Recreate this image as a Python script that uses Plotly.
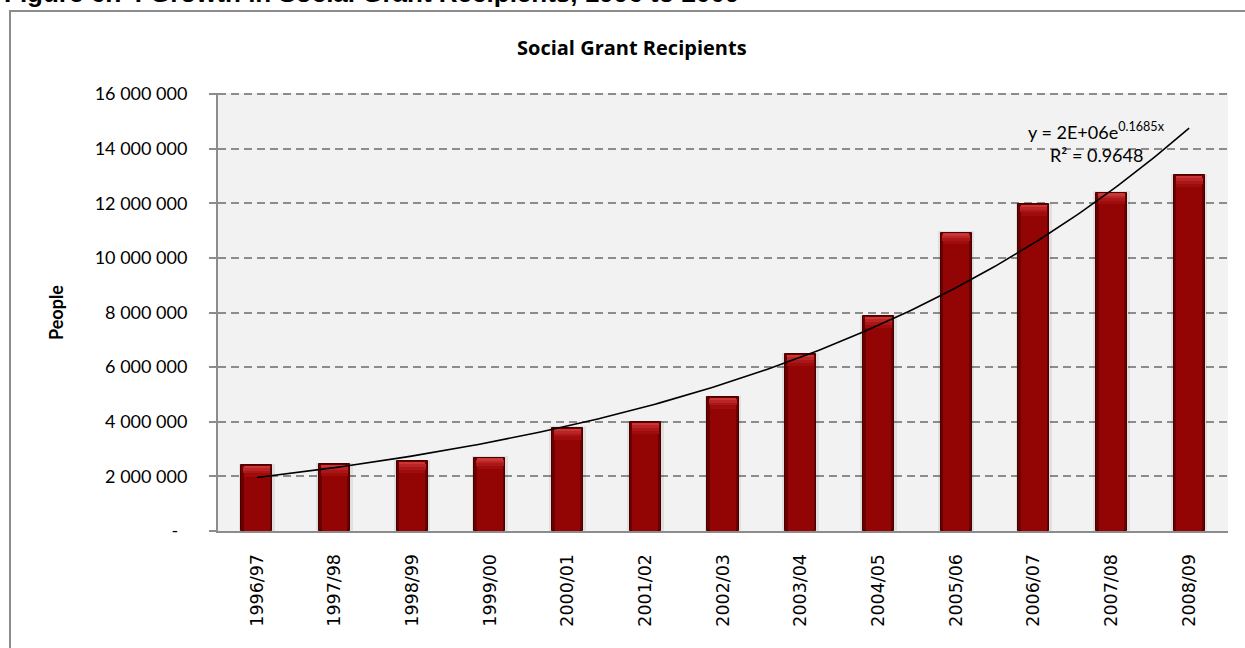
import numpy as np
import plotly.graph_objects as go

# ---- data ----
categories = ["1996/97", "1997/98", "1998/99", "1999/00", "2000/01", "2001/02", "2002/03",
              "2003/04", "2004/05", "2005/06", "2006/07", "2007/08", "2008/09"]
recipients = [2410000, 2440000, 2550000, 2680000, 3770000, 3980000, 4900000,
              6470000, 7860000, 10930000, 11970000, 12380000, 13020000]
y_tickvals = [0, 2000000, 4000000, 6000000, 8000000, 10000000, 12000000, 14000000, 16000000]
y_ticktext = ["-\u00a0\u00a0", "2 000 000", "4 000 000", "6 000 000", "8 000 000",
              "10 000 000", "12 000 000", "14 000 000", "16 000 000"]
trend_label = "y = 2E+06e<sup>0.1685x</sup>"
r2_label = "R² = 0.9648"

xpos = np.arange(1, len(categories) + 1)
vals = np.array(recipients, dtype=float)

# exponential trendline fitted from the data (as in the spreadsheet)
b, ln_a = np.polyfit(xpos, np.log(vals), 1)
xt = np.linspace(xpos[0], xpos[-1], 200)
yt = np.exp(ln_a) * np.exp(b * xt)

n = len(vals)
fig = go.Figure()
# soft shadow
fig.add_trace(go.Bar(x=xpos, y=vals + 60000, width=0.47,
                     marker=dict(color="rgba(0,0,0,0.07)", line=dict(width=0)),
                     hoverinfo="skip", showlegend=False))
# bar body (dark edges)
fig.add_trace(go.Bar(x=xpos, y=vals, width=0.4,
                     marker=dict(color="#6a0000", line=dict(color="#4a0000", width=1)),
                     showlegend=False, name="People"))
# bar centre
fig.add_trace(go.Bar(x=xpos, y=vals - 30000, width=0.33,
                     marker=dict(color="#930505", line=dict(width=0)),
                     hoverinfo="skip", showlegend=False))
# glossy top (stepped gradient)
for off, h, w, col in [(420000, 160000, 0.34, "#9e0c0c"),
                       (300000, 140000, 0.35, "#ab1616"),
                       (200000, 120000, 0.35, "#ba2424"),
                       (110000, 90000, 0.34, "#c83636")]:
    fig.add_trace(go.Bar(x=xpos, y=[h] * n, base=vals - off, width=w,
                         marker=dict(color=col, line=dict(width=0)),
                         hoverinfo="skip", showlegend=False))
# trendline
fig.add_trace(go.Scatter(x=xt, y=yt, mode="lines", line=dict(color="black", width=1.6),
                         hoverinfo="skip", showlegend=False))

L, R, T, B = 218, 17, 93, 117
W, H = 1245, 648
pw, ph = W - L - R, H - T - B


def px(x):
    return (x - L) / pw


def py(y):
    return (H - B - y) / ph


fig.update_layout(
    width=W, height=H,
    margin=dict(l=L, r=R, t=T, b=B, pad=0),
    paper_bgcolor="white",
    plot_bgcolor="#f2f2f2",
    barmode="overlay",
    bargap=0,
    font=dict(family="Lato", size=18, color="black"),
    xaxis=dict(
        range=[0.5, n + 0.5],
        tickmode="array", tickvals=xpos, ticktext=categories,
        tickangle=-90,
        tickfont=dict(family="DejaVu Sans", size=17.5, color="black"),
        showgrid=False, zeroline=False,
        showline=True, linecolor="#8c8c8c", linewidth=2,
        ticks="", ticklabelstandoff=14,
    ),
    yaxis=dict(
        range=[0, 16040000],
        tickmode="array", tickvals=y_tickvals, ticktext=y_ticktext,
        tickfont=dict(family="Lato", size=18, color="black"),
        showgrid=True, gridcolor="#8c8c8c", gridwidth=1.5, griddash="8px,5px",
        zeroline=False,
        showline=True, linecolor="#8c8c8c", linewidth=2,
        ticks="outside", ticklen=7, tickcolor="#8c8c8c", tickwidth=1.5,
        ticklabelstandoff=18,
    ),
    shapes=[dict(type="rect", xref="paper", yref="paper",
                 x0=px(10), x1=1.06, y0=-0.4, y1=py(11),
                 line=dict(color="#8c8c8c", width=2), fillcolor="rgba(0,0,0,0)",
                 layer="below")],
    annotations=[
        dict(text="<b>Figure 6.7 : Growth in Social Grant Recipients, 1996 to 2009</b>",
             xref="paper", yref="paper", x=px(2), y=py(-7.4), xanchor="left", yanchor="middle",
             showarrow=False, font=dict(family="Liberation Sans", size=26, color="black")),
        dict(text="<b>Social Grant Recipients</b>", xref="paper", yref="paper",
             x=px(632), y=py(47.5), xanchor="center", yanchor="middle", showarrow=False,
             font=dict(family="Open Sans", size=20, color="black")),
        dict(text="<b>People</b>", xref="paper", yref="paper", x=px(56), y=py(313),
             xanchor="center", yanchor="middle", textangle=-90, showarrow=False,
             font=dict(family="Lato", size=18, color="black")),
        dict(text=trend_label, xref="paper", yref="paper", x=px(1096), y=py(131),
             xanchor="center", yanchor="middle", showarrow=False,
             font=dict(family="Lato", size=18, color="black")),
        dict(text=r2_label, xref="paper", yref="paper", x=px(1096), y=py(155),
             xanchor="center", yanchor="middle", showarrow=False,
             font=dict(family="Lato", size=18, color="black")),
    ],
)

fig.write_html("out.html")
